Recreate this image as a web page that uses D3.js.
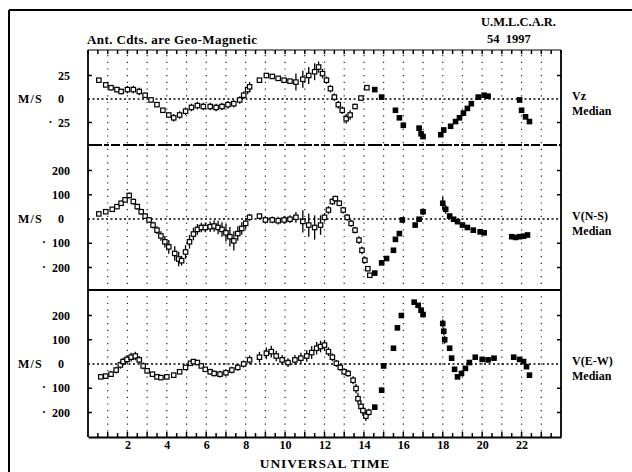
<!DOCTYPE html>
<html><head><meta charset="utf-8">
<script src="https://cdn.jsdelivr.net/npm/d3@7"></script>
<style>
html,body{margin:0;padding:0;background:#fff;}
svg text{font-family:"Liberation Serif","DejaVu Serif",serif;font-weight:bold;fill:#000;}
</style></head>
<body>
<svg id="c" width="632" height="472"></svg>
<script>
// ---------- data ----------
const hourTicks = [2,4,6,8,10,12,14,16,18,20,22];
const vzTicks = [25,0,-25];
const nsTicks = [200,100,0,-100,-200];
const ewTicks = [200,100,0,-100,-200];

const vzHours = [0.55,0.9,1.17,1.47,1.68,2.0,2.3,2.6,2.9,3.2,3.5,3.8,4.1,4.35,4.65,4.95,5.25,5.55,5.85,6.2,6.5,6.8,7.1,7.4,7.7,7.9,8.1,8.2,8.7,9.05,9.35,9.65,9.95,10.25,10.55,10.9,11.2,11.5,11.7,11.9,12.1,12.3,12.5,12.7,12.9,13.1,13.3,13.55,13.85,14.15,14.55,14.9,15.6,15.8,16.0,16.8,16.9,17.0,17.9,18.05,18.4,18.65,18.85,19.05,19.25,19.45,19.8,20.1,20.3,21.9,22.0,22.2,22.4];
const vzValues = [20,15,12,10,8,10,10,8,4,-1,-6,-12,-17,-20,-17,-13,-9,-7,-8,-8,-9,-8,-6,-5,-1,4,10,13,20,25,24,22,20,19,18,21,25,29,34,27,20,11,2,-6,-12,-21,-17,-8,1,12,10,2,-12,-20,-28,-31,-37,-40,-38,-33,-29,-24,-20,-15,-10,-5,2,4,3,-1,-12,-19,-24];
const vzErr = [1,2,3,3,3,4,4,4,3,2,2,2,3,4,4,4,4,4,4,4,4,4,4,4,4,4,5,5,2,2,2,2,2,2,9,9,9,9,6,5,4,4,4,4,4,5,5,3,1,1,0,0,0,0,0,0,0,0,0,0,0,0,0,0,0,0,0,0,0,0,0,0,0];

const nsHours = [0.55,0.9,1.23,1.47,1.68,1.88,2.09,2.3,2.5,2.7,2.9,3.1,3.3,3.5,3.7,3.9,4.1,4.4,4.6,4.75,4.95,5.15,5.35,5.55,5.75,5.95,6.2,6.4,6.6,6.8,7.0,7.2,7.4,7.6,7.8,8.0,8.2,8.7,9.0,9.35,9.65,9.95,10.25,10.55,10.9,11.2,11.5,11.8,12.0,12.2,12.4,12.55,12.75,12.95,13.15,13.35,13.55,13.75,13.9,14.05,14.2,14.3,14.55,14.9,15.15,15.5,15.6,15.8,15.95,16.6,16.8,17.0,18.0,18.15,18.35,18.55,18.75,19.0,19.25,19.55,19.9,20.1,21.5,21.7,21.9,22.1,22.3];
const nsValues = [21,30,40,51,65,79,97,72,51,30,12,-4,-25,-46,-70,-94,-115,-142,-165,-172,-136,-94,-62,-43,-35,-35,-32,-29,-35,-43,-57,-73,-90,-60,-39,-18,7,12,-4,-4,-7,-4,-1,7,-10,-25,-35,-25,7,37,72,84,65,37,7,-18,-46,-87,-129,-170,-205,-232,-223,-181,-163,-129,-84,-60,-4,-25,-1,30,65,40,12,-1,-11,-25,-35,-46,-53,-57,-73,-76,-73,-71,-66];
const nsErr = [4,6,8,10,10,10,12,12,12,12,12,12,14,16,20,24,28,30,30,20,28,28,26,22,20,20,22,24,28,30,36,40,40,30,26,22,14,10,14,14,16,16,16,22,46,48,50,40,18,16,14,12,12,14,14,14,14,16,16,14,10,8,6,4,4,6,10,8,6,10,8,14,26,18,10,8,6,6,6,6,6,4,4,4,4,4,4];

const ewHours = [0.65,0.9,1.17,1.43,1.64,1.78,1.98,2.19,2.4,2.6,2.8,3.0,3.27,3.5,3.7,4.0,4.35,4.65,4.95,5.2,5.35,5.55,5.75,5.95,6.2,6.4,6.7,7.0,7.3,7.6,7.9,8.2,8.7,9.05,9.3,9.55,9.85,10.15,10.5,10.8,11.1,11.35,11.6,11.8,12.0,12.2,12.4,12.6,12.8,13.0,13.2,13.45,13.6,13.7,13.85,13.95,14.1,14.25,14.55,14.9,15.0,15.5,15.7,15.9,16.55,16.75,16.9,17.0,18.0,18.05,18.1,18.35,18.45,18.6,18.75,18.95,19.15,19.35,19.65,20.0,20.3,20.6,21.6,21.9,22.1,22.25,22.4];
const ewValues = [-53,-50,-42,-25,-4,10,19,28,33,17,-8,-28,-42,-53,-56,-53,-46,-32,-14,3,10,6,-8,-22,-32,-39,-42,-36,-25,-14,0,17,28,44,51,33,17,6,17,24,33,47,65,72,78,51,28,3,-14,-32,-39,-67,-101,-143,-175,-192,-215,-199,-178,-108,-8,65,149,200,255,242,222,204,167,135,100,65,24,-22,-53,-39,-18,6,28,19,17,24,28,19,10,-11,-46];
const ewErr = [8,10,12,14,16,16,18,18,18,16,14,12,10,10,10,10,10,10,8,6,6,6,8,10,12,12,14,14,14,14,14,18,22,24,24,22,20,18,20,22,24,26,26,24,22,18,16,14,14,14,14,16,20,24,26,22,20,14,10,10,4,4,4,6,6,6,8,10,16,16,16,10,10,8,6,6,4,4,4,4,4,4,4,4,4,4,4];

// ---------- layout ----------
const svg = d3.select("#c");
const X0 = 88, X1 = 561, TOP = 50, BOT = 437;
const x = d3.scaleLinear().domain([0,24]).range([X0,X1]);

const panels = [
  {top:TOP, bottom:145, y:d3.scaleLinear().domain([-25,25]).range([122.5,75.5]),
   hours:vzHours, values:vzValues, err:vzErr, ticks:vzTicks, lab1:"Vz", lab2:"Median"},
  {top:145, bottom:290, y:d3.scaleLinear().domain([-200,200]).range([267.5,170.5]),
   hours:nsHours, values:nsValues, err:nsErr, ticks:nsTicks, lab1:"V(N-S)", lab2:"Median"},
  {top:290, bottom:BOT, y:d3.scaleLinear().domain([-200,200]).range([412.5,315.5]),
   hours:ewHours, values:ewValues, err:ewErr, ticks:ewTicks, lab1:"V(E-W)", lab2:"Median"}
];

// outer frame
svg.append("line").attr("x1",9).attr("x2",632).attr("y1",10).attr("y2",10).attr("stroke","#000").attr("stroke-width",2);
svg.append("line").attr("x1",9).attr("x2",9).attr("y1",10).attr("y2",472).attr("stroke","#000").attr("stroke-width",2);

// titles
svg.append("text").attr("x",481).attr("y",26).attr("font-size",12.5).text("U.M.L.C.A.R.");
svg.append("text").attr("x",487).attr("y",43).attr("font-size",12.5).attr("xml:space","preserve").text("54  1997");
svg.append("text").attr("x",87).attr("y",44).attr("font-size",13).attr("letter-spacing",0.4).text("Ant. Cdts. are Geo-Magnetic");

// hourly dotted grid lines
svg.append("g").selectAll("line").data(d3.range(1,24)).join("line")
  .attr("x1",d=>x(d)).attr("x2",d=>x(d)).attr("y1",TOP+5).attr("y2",BOT-4)
  .attr("stroke","#222").attr("stroke-width",1.2).attr("stroke-dasharray","1.2,5.5");

// top tick row
svg.append("line").attr("x1",X0).attr("x2",X1).attr("y1",TOP).attr("y2",TOP).attr("stroke","#000").attr("stroke-width",1);
svg.append("g").selectAll("line").data(d3.range(0,24.01,0.5)).join("line")
  .attr("x1",d=>x(d)).attr("x2",d=>x(d)).attr("y1",TOP).attr("y2",TOP+4)
  .attr("stroke","#000").attr("stroke-width",1.5);

// bottom axis
const xAxis = d3.axisBottom(x).tickValues(hourTicks).tickSize(0).tickPadding(3).tickFormat(d3.format("d"));
const gx = svg.append("g").attr("transform",`translate(0,${BOT})`).call(xAxis);
gx.select(".domain").attr("stroke","#000").attr("stroke-width",2);
gx.selectAll("text").attr("font-size",12).attr("font-family","Liberation Serif").attr("font-weight","bold");
svg.append("g").selectAll("line").data(d3.range(0.5,24,0.5)).join("line")
  .attr("x1",d=>x(d)).attr("x2",d=>x(d)).attr("y1",BOT).attr("y2",d=>BOT-(d%1===0?5:4))
  .attr("stroke","#000").attr("stroke-width",1.5);
svg.append("text").attr("x",325).attr("y",468).attr("text-anchor","middle").attr("font-size",13.5)
  .attr("letter-spacing",0.9).text("UNIVERSAL TIME");

// side frame lines
svg.append("line").attr("x1",X0).attr("x2",X0).attr("y1",TOP).attr("y2",BOT).attr("stroke","#000").attr("stroke-width",1.8);
svg.append("line").attr("x1",X1).attr("x2",X1).attr("y1",TOP).attr("y2",BOT).attr("stroke","#000").attr("stroke-width",1.8);

// separators
svg.append("line").attr("x1",X0).attr("x2",X1).attr("y1",145).attr("y2",145).attr("stroke","#000").attr("stroke-width",1.8).attr("stroke-dasharray","14,2,5,2,9,3");
svg.append("line").attr("x1",X0).attr("x2",X1).attr("y1",290).attr("y2",290).attr("stroke","#000").attr("stroke-width",2.2);

panels.forEach((p,i)=>{
  const g = svg.append("g");
  const clipId = "clip"+i;
  svg.append("clipPath").attr("id",clipId).append("rect").attr("x",X0).attr("y",p.top+1).attr("width",X1-X0).attr("height",p.bottom-p.top-2);
  // zero line
  g.append("line").attr("x1",X0).attr("x2",X1).attr("y1",p.y(0)).attr("y2",p.y(0))
    .attr("stroke","#000").attr("stroke-width",1.3).attr("stroke-dasharray","2,2.5");
  // inward ticks left/right
  const tv = p.ticks.filter(t=>t!==0);
  g.selectAll(".tl").data(tv).join("line").attr("x1",X0).attr("x2",X0+4).attr("y1",d=>p.y(d)).attr("y2",d=>p.y(d)).attr("stroke","#000").attr("stroke-width",1.5);
  g.selectAll(".tr").data(tv).join("line").attr("x1",X1).attr("x2",X1-4).attr("y1",d=>p.y(d)).attr("y2",d=>p.y(d)).attr("stroke","#000").attr("stroke-width",1.5);
  // left labels
  p.ticks.forEach(t=>{
    if(t===0){
      g.append("text").attr("x",18).attr("y",p.y(0)+4).attr("font-size",12).attr("letter-spacing",1.2).text("M/S");
      g.append("text").attr("x",64).attr("y",p.y(0)+4).attr("text-anchor","end").attr("font-size",12).text("0");
    } else if(t<0){
      g.append("text").attr("x",70).attr("y",p.y(t)+4).attr("text-anchor","end").attr("font-size",12).text(String(-t));
      g.append("text").attr("x",70-(String(-t).length*6.3)-5).attr("y",p.y(t)+3).attr("text-anchor","end").attr("font-size",12).text("·");
    } else {
      g.append("text").attr("x",70).attr("y",p.y(t)+4).attr("text-anchor","end").attr("font-size",12).text(String(t));
    }
  });
  // right labels
  g.append("text").attr("x",572).attr("y",p.y(0)+1).attr("font-size",12).text(p.lab1);
  g.append("text").attr("x",572).attr("y",p.y(0)+16).attr("font-size",12).text(p.lab2);
  // data
  const dg = g.append("g").attr("clip-path",`url(#${clipId})`);
  const pts = p.hours.map((h,j)=>({h, v:p.values[j], e:p.err[j]}));
  dg.selectAll(".eb").data(pts.filter(d=>d.e>0)).join("line")
    .attr("x1",d=>x(d.h)).attr("x2",d=>x(d.h)).attr("y1",d=>p.y(d.v+d.e)).attr("y2",d=>p.y(d.v-d.e))
    .attr("stroke","#000").attr("stroke-width",1.3);
  dg.selectAll(".mk").data(pts).join("rect")
    .attr("x",d=>x(d.h)-2.2).attr("y",d=>p.y(d.v)-2.2).attr("width",4.4).attr("height",4.4)
    .attr("fill",d=>d.h>=14.4?"#000":"#fff").attr("stroke","#000").attr("stroke-width",1.2);
});
</script>
</body></html>
